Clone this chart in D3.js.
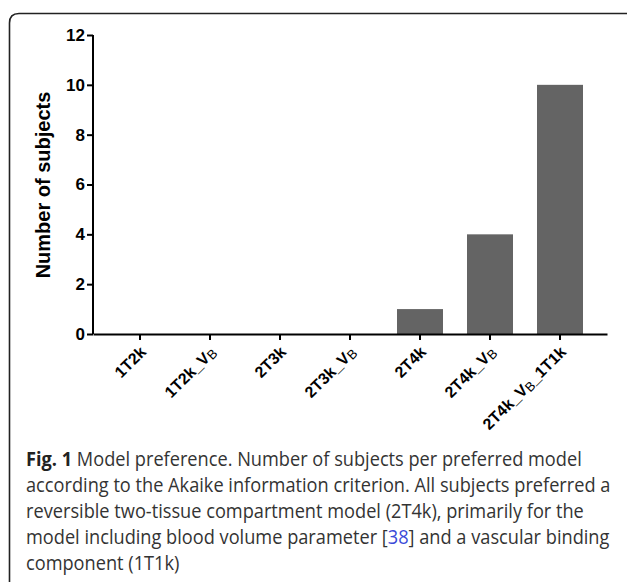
<!DOCTYPE html>
<meta charset="utf-8">
<head>
<script src="https://d3js.org/d3.v7.min.js"></script>
<style>
body { margin: 0; background: #fff; }
.caption { font-family: "Open Sans", sans-serif; font-size: 20px; fill: #333; }
</style>
</head>
<body>
<div id="my_dataviz"></div>
<script>
// models (label main part + optional subscript parts)
var models = ["1T2k", "1T2k_VB", "2T3k", "2T3k_VB", "2T4k", "2T4k_VB", "2T4k_VB_1T1k"];
var subjects = [0, 0, 0, 0, 1, 4, 10];
var yTicks = [0, 2, 4, 6, 8, 10, 12];

// label pieces: [text, isSubscript]
var labelParts = {
  "1T2k": [["1T2k", false]],
  "1T2k_VB": [["1T2k_V", false], ["B", true]],
  "2T3k": [["2T3k", false]],
  "2T3k_VB": [["2T3k_V", false], ["B", true]],
  "2T4k": [["2T4k", false]],
  "2T4k_VB": [["2T4k_V", false], ["B", true]],
  "2T4k_VB_1T1k": [["2T4k_V", false], ["B", true], ["_1T1k", false]]
};

var captionLines = [
  [["Fig. 1", "bold"], [" Model preference. Number of subjects per preferred model", "normal"]],
  [["according to the Akaike information criterion. All subjects preferred a", "normal"]],
  [["reversible two-tissue compartment model (2T4k), primarily for the", "normal"]],
  [["model including blood volume parameter [", "normal"], ["38", "link"], ["] and a vascular binding", "normal"]],
  [["component (1T1k)", "normal"]]
];

var W = 627, H = 582;
var svg = d3.select("#my_dataviz").append("svg")
  .attr("width", W).attr("height", H);

// frame
svg.append("path")
  .attr("d", "M9.5,600 L9.5,23 Q9.5,13.5 19,13.5 L640,13.5")
  .attr("fill", "none").attr("stroke", "#222").attr("stroke-width", 1.6);

var x0 = 93, x1 = 607, yTop = 35, yBot = 334;
var labelFont = "Liberation Sans, Arial, sans-serif";

var x = d3.scaleBand().domain(models).range([x0, x1]).padding(0.343);
var y = d3.scaleLinear().domain([0, 12]).range([yBot, yTop]);

// bars
svg.selectAll(".bar").data(models).enter().append("rect")
  .attr("class", "bar")
  .attr("x", function(d) { return x(d); })
  .attr("width", x.bandwidth())
  .attr("y", function(d, i) { return y(subjects[i]); })
  .attr("height", function(d, i) { return yBot - y(subjects[i]); })
  .attr("fill", "#646464");

// y axis
var yAxis = svg.append("g")
  .attr("transform", "translate(" + x0 + ",0)")
  .call(d3.axisLeft(y).tickValues(yTicks).tickSize(6).tickPadding(2).tickSizeOuter(0));
yAxis.selectAll("path, line").attr("stroke", "#000").attr("stroke-width", 2);
yAxis.select(".domain").attr("d", "M0," + (yTop) + "V" + yBot);
yAxis.selectAll(".tick text")
  .style("font-family", labelFont).style("font-weight", "bold")
  .style("font-size", "17px").attr("fill", "#000");

// x axis
var xAxis = svg.append("g")
  .attr("transform", "translate(0," + yBot + ")")
  .call(d3.axisBottom(x).tickSize(6).tickSizeOuter(0).tickFormat(""));
xAxis.selectAll("path, line").attr("stroke", "#000").attr("stroke-width", 2);

// rotated x labels with subscript B
xAxis.selectAll(".tick").each(function(d) {
  var t = d3.select(this).append("text")
    .attr("text-anchor", "end")
    .attr("fill", "#000")
    .style("font-family", labelFont).style("font-weight", "bold")
    .style("font-size", "16px")
    .attr("transform", "translate(7,19) rotate(-45)");
  labelParts[d].forEach(function(p, k) {
    var ts = t.append("tspan").text(p[0]);
    if (p[1]) {
      ts.style("font-weight", "normal").style("font-size", "13px")
        .attr("dy", 2);
    } else if (k > 0) {
      ts.attr("dy", -2);
    }
  });
});

// y title
svg.append("text")
  .attr("transform", "translate(50,185) rotate(-90)")
  .attr("text-anchor", "middle")
  .style("font-family", labelFont)
  .style("font-weight", "bold")
  .style("font-size", "20px")
  .text("Number of subjects");

// caption
var cap = svg.append("g").attr("class", "caption")
  .attr("transform", "translate(26,0) scale(0.91,1)");
captionLines.forEach(function(line, i) {
  var t = cap.append("text").attr("x", 0).attr("y", 466 + i * 26);
  line.forEach(function(p) {
    var ts = t.append("tspan").text(p[0]);
    if (p[1] === "bold") ts.style("font-weight", "bold").style("fill", "#222");
    if (p[1] === "link") ts.style("fill", "#3b4bd8");
  });
});
</script>
</body>
</html>
